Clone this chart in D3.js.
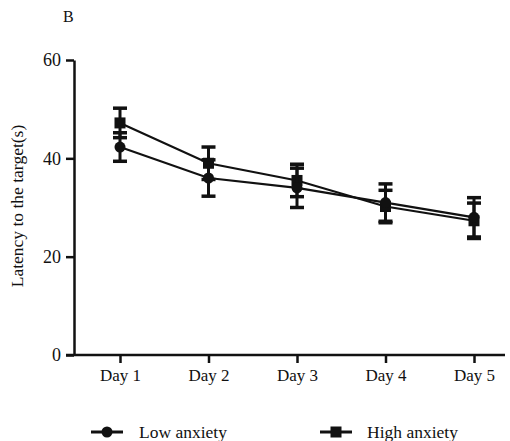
<!DOCTYPE html>
<html>
<head>
<meta charset="utf-8">
<script src="https://cdn.jsdelivr.net/npm/d3@7"></script>
<style>
  body { margin: 0; background: #fff; }
</style>
</head>
<body>
<script>
// categories on the x axis
var days = ['Day 1', 'Day 2', 'Day 3', 'Day 4', 'Day 5'];
// mean latency per day
var lowMean = [42.3, 36, 34, 31, 28];
var highMean = [47.2, 39, 35.5, 30.2, 27.3];
// error (SE) per day
var lowErr = [2.9, 3.7, 4, 3.8, 4];
var highErr = [3, 3.3, 3.3, 3.3, 3.6];
var yTicks = [0, 20, 40, 60];

var svgWidth = 510;
var svgHeight = 441;
var serif = 'Liberation Serif';

var svg = d3.select('body').append('svg')
    .attr('width', svgWidth)
    .attr('height', svgHeight)
    .style('font-family', serif);

var yScale = d3.scaleLinear()
    .domain([0, 60])
    .range([355, 60]);

var xScale = d3.scalePoint()
    .domain(days)
    .range([120, 474]);

// panel letter
svg.append('text')
    .attr('x', 63)
    .attr('y', 22)
    .style('font-family', serif)
    .style('font-size', '16px')
    .attr('fill', '#111')
    .text('B');

// y axis
var yAxis = d3.axisLeft(yScale)
    .tickValues(yTicks)
    .tickSize(8)
    .tickPadding(5)
    .tickSizeOuter(0);

var gy = svg.append('g')
    .attr('transform', 'translate(74,0)')
    .call(yAxis)
    .attr('font-family', serif);
gy.select('.domain').attr('stroke', '#111').attr('stroke-width', 2.5);
gy.selectAll('.tick line').attr('stroke', '#111').attr('stroke-width', 2.5);
gy.selectAll('.tick text').style('font-size', '18px').style('font-family', serif).attr('fill', '#111');

// x axis (line starts a bit left of the y axis, like the original)
var xAxis = d3.axisBottom(xScale)
    .tickSize(8)
    .tickPadding(6)
    .tickSizeOuter(0);

var gx = svg.append('g')
    .attr('transform', 'translate(0,355)')
    .call(xAxis)
    .attr('font-family', serif);
gx.select('.domain').attr('d', 'M66,0H505').attr('stroke', '#111').attr('stroke-width', 2.5);
gx.selectAll('.tick line').attr('stroke', '#111').attr('stroke-width', 2.5);
gx.selectAll('.tick text').style('font-size', '17px').style('font-family', serif).attr('fill', '#111');

// y axis title
svg.append('text')
    .attr('transform', 'translate(23,206) rotate(-90)')
    .attr('text-anchor', 'middle')
    .style('font-family', serif)
    .style('font-size', '17.5px')
    .attr('fill', '#111')
    .text('Latency to the target(s)');

function drawSeries(mean, err, shape) {
    var pts = days.map(function(d, i) { return { day: d, m: mean[i], e: err[i] }; });
    var g = svg.append('g');

    var line = d3.line()
        .x(function(d) { return xScale(d.day); })
        .y(function(d) { return yScale(d.m); });

    g.append('path')
        .datum(pts)
        .attr('d', line)
        .attr('fill', 'none')
        .attr('stroke', '#111')
        .attr('stroke-width', 2.2);

    var eb = g.selectAll('.eb')
        .data(pts)
        .enter()
        .append('g');
    eb.append('line')
        .attr('x1', function(d) { return xScale(d.day); })
        .attr('x2', function(d) { return xScale(d.day); })
        .attr('y1', function(d) { return yScale(d.m - d.e); })
        .attr('y2', function(d) { return yScale(d.m + d.e); })
        .attr('stroke', '#111').attr('stroke-width', 3);
    [1, -1].forEach(function(s) {
        eb.append('line')
            .attr('x1', function(d) { return xScale(d.day) - 7; })
            .attr('x2', function(d) { return xScale(d.day) + 7; })
            .attr('y1', function(d) { return yScale(d.m + s * d.e); })
            .attr('y2', function(d) { return yScale(d.m + s * d.e); })
            .attr('stroke', '#111').attr('stroke-width', 3.5);
    });

    if (shape === 'circle') {
        g.selectAll('.pt').data(pts).enter().append('circle')
            .attr('cx', function(d) { return xScale(d.day); })
            .attr('cy', function(d) { return yScale(d.m); })
            .attr('r', 5.5)
            .attr('fill', '#111');
    } else {
        g.selectAll('.pt').data(pts).enter().append('rect')
            .attr('x', function(d) { return xScale(d.day) - 5.5; })
            .attr('y', function(d) { return yScale(d.m) - 5.5; })
            .attr('width', 11)
            .attr('height', 11)
            .attr('fill', '#111');
    }
}

drawSeries(highMean, highErr, 'square');
drawSeries(lowMean, lowErr, 'circle');

// legend
var legend = svg.append('g');
legend.append('line').attr('x1', 91).attr('x2', 123).attr('y1', 432).attr('y2', 432)
    .attr('stroke', '#111').attr('stroke-width', 3);
legend.append('circle').attr('cx', 107).attr('cy', 432).attr('r', 5.5).attr('fill', '#111');
legend.append('text').attr('x', 139).attr('y', 438)
    .style('font-family', serif).style('font-size', '17.5px').attr('fill', '#111').text('Low anxiety');

legend.append('line').attr('x1', 320).attr('x2', 352).attr('y1', 432).attr('y2', 432)
    .attr('stroke', '#111').attr('stroke-width', 3);
legend.append('rect').attr('x', 330.5).attr('y', 426.5).attr('width', 11).attr('height', 11).attr('fill', '#111');
legend.append('text').attr('x', 367).attr('y', 438)
    .style('font-family', serif).style('font-size', '17.5px').attr('fill', '#111').text('High anxiety');
</script>
</body>
</html>
